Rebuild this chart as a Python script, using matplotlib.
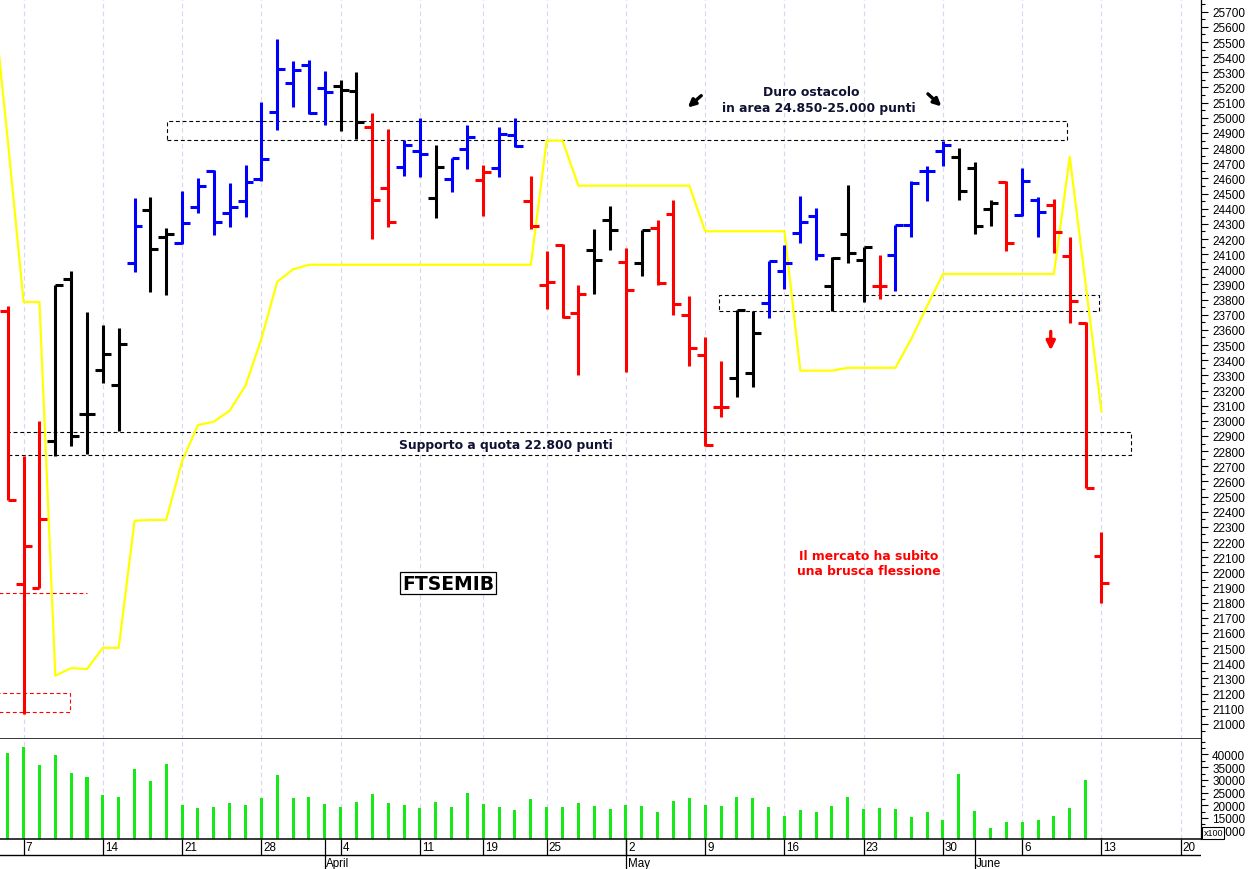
import matplotlib
matplotlib.use("Agg")
import matplotlib.pyplot as plt
import numpy as np

# FTSE MIB daily bars, x = trading day index (0 = 7 March 2022)
day = np.arange(-1, 69)
opens = [23725, 21921, 21896, 22865, 23936, 23047, 23337, 23236, 24041, 24389,
         24211, 24173, 24409, 24651, 24373, 24449, 24596, 25036, 25227, 25348,
         25198, 25208, 25179, 24937, 24534, 24673, 24783, 24470, 24596, 24794,
         24589, 24666, 24886, 24451, 23896, 24162, 23711, 24127, 24325, 24046,
         24041, 24274, 24365, 23698, 23434, 23089, 23280, 23315, 23777, 23987,
         24239, 24354, 23888, 24233, 24061, 23892, 24096, 24292, 24647, 24783,
         24739, 24668, 24398, 24578, 24358, 24457, 24424, 24090, 23643, 22110]
highs = [23758, 22770, 23001, 23896, 23991, 23720, 23634, 23610, 24468, 24475,
         24272, 24515, 24604, 24655, 24567, 24686, 25106, 25520, 25375, 25381,
         25311, 25251, 25300, 25029, 24926, 24853, 24996, 24822, 24732, 24954,
         24690, 24941, 24996, 24614, 24123, 24167, 23898, 24266, 24420, 24140,
         24259, 24325, 24457, 23826, 23555, 23393, 23733, 23723, 24057, 24160,
         24486, 24402, 24083, 24558, 24145, 24096, 24294, 24585, 24684, 24849,
         24798, 24706, 24457, 24585, 24666, 24475, 24464, 24211, 23650, 22268]
lows = [22477, 21065, 21896, 22766, 22836, 22781, 23249, 22931, 23980, 23848,
        23832, 24167, 24371, 24226, 24277, 24343, 24585, 24919, 25069, 25025,
        24952, 24911, 24860, 24200, 24277, 24617, 24607, 24338, 24512, 24662,
        24354, 24607, 24809, 24266, 23738, 23676, 23302, 23837, 24129, 23320,
        23954, 23896, 23698, 23364, 22836, 23023, 23155, 23225, 23676, 23870,
        24173, 24063, 23727, 24039, 23786, 23804, 23859, 24215, 24449, 24684,
        24457, 24233, 24288, 24118, 24354, 24211, 24105, 23643, 22554, 21797]
closes = [22477, 22172, 22350, 23896, 22902, 23047, 23439, 23507, 24288, 24134,
          24231, 24303, 24548, 24310, 24413, 24574, 24726, 25324, 25317, 25029,
          25170, 25185, 24974, 24457, 24310, 24822, 24759, 24673, 24732, 24875,
          24640, 24893, 24814, 24288, 23914, 23687, 23837, 24061, 24261, 23863,
          24259, 23907, 23771, 23480, 22840, 23089, 23731, 23579, 24057, 24041,
          24314, 24094, 24074, 24107, 24145, 23892, 24292, 24567, 24647, 24820,
          24515, 24288, 24437, 24173, 24581, 24380, 24244, 23789, 22554, 21927]
trend = ["r", "r", "r", "k", "k", "k", "k", "k", "b", "k",
         "k", "b", "b", "b", "b", "b", "b", "b", "b", "b",
         "b", "k", "k", "r", "r", "b", "b", "k", "b", "b",
         "r", "b", "b", "r", "r", "r", "r", "k", "k", "r",
         "k", "r", "r", "r", "r", "r", "k", "k", "b", "b",
         "b", "b", "k", "k", "k", "r", "b", "b", "b", "b",
         "k", "k", "k", "r", "b", "b", "r", "r", "r", "r"]
volume = [40500, 43100, 35900, 39800, 32600, 31300, 24100, 23300, 34400, 29600,
          36300, 20000, 18900, 19500, 20900, 20100, 23000, 31900, 23000, 23400,
          20400, 19300, 21300, 24500, 20900, 20000, 18900, 21200, 19200, 24700,
          20400, 19300, 18200, 22400, 19300, 19200, 20800, 19800, 18400, 20100,
          19700, 17400, 21600, 23000, 20100, 19600, 23400, 22800, 19200, 15800,
          18000, 17400, 19700, 23400, 18500, 18800, 18500, 15400, 17400, 14200,
          32200, 17800, 11000, 13400, 13400, 14200, 15800, 19100, 30000, 7100]

# yellow indicator line (starts one day earlier, off the left edge)
ind_day = np.arange(-2, 69)
indicator = [25880, 24853, 23784, 23784, 21318, 21368, 21362, 21502, 21502, 22341,
             22345, 22347, 22735, 22972, 22994, 23067, 23232, 23540, 23918, 24000,
             24030, 24030, 24030, 24030, 24030, 24030, 24030, 24030, 24030, 24030,
             24030, 24030, 24030, 24030, 24030, 24849, 24849, 24552, 24552, 24552,
             24552, 24552, 24552, 24552, 24552, 24251, 24251, 24251, 24251, 24251,
             24251, 23331, 23331, 23331, 23350, 23350, 23350, 23350, 23540, 23757,
             23969, 23969, 23969, 23969, 23969, 23969, 23969, 23969, 24743, 23903,
             23063]

week_idx = [0, 5, 10, 15, 20, 25, 29, 33, 38, 43, 48, 53, 58, 63, 68, 73]
week_lbl = ["7", "14", "21", "28", "4", "11", "19", "25", "2", "9", "16", "23",
            "30", "6", "13", "20"]
month_idx = [19, 38, 60]
month_lbl = ["April", "May", "June"]

colmap = {"r": "#ff0000", "b": "#0000ff", "k": "#000000"}
cols = [colmap[t] for t in trend]

W, H = 1250, 870
def rect(x0, y0, x1, y1):
    return [x0 / W, 1 - y1 / H, (x1 - x0) / W, (y1 - y0) / H]

fig = plt.figure(figsize=(12.5, 8.7), dpi=100)
ax = fig.add_axes(rect(0, 0, 1201, 739.7))
axv = fig.add_axes(rect(0, 739.7, 1201, 840), sharex=ax)
axd = fig.add_axes(rect(0, 840, 1201, 870), sharex=ax)

xmin, xmax = -1.489, 74.28
ax.set_xlim(xmin, xmax)
ax.set_ylim(20902, 25784)

for w in week_idx:
    ax.axvline(w, color="#d6d6ee", lw=0.8, ls=(0, (4, 3)), zorder=0)
    axv.axvline(w, color="#d6d6ee", lw=0.8, ls=(0, (4, 3)), zorder=0)

# support / resistance boxes
dash = (0, (3.5, 2.5))
def zone(a, b, lo, hi, color="black"):
    ax.plot([a, b, b, a, a], [lo, lo, hi, hi, lo], color=color, lw=0.8, ls=dash, zorder=1)

zone(9.03, 65.8, 24851, 24981)
zone(-1.0, 69.85, 22772, 22923)
zone(43.9, 67.85, 23725, 23828)
zone(-1.6, 2.95, 21076, 21201, color="red")
ax.plot([-1.6, 4.0], [21861, 21861], color="red", lw=0.8, ls=dash, zorder=1)

ax.plot(ind_day, indicator, color="#ffff00", lw=1.6, zorder=2)

# OHLC bars
lw = 2.2
ax.vlines(day, lows, highs, colors=cols, lw=lw, zorder=3)
ax.hlines(opens, day - 0.5, day, colors=cols, lw=lw, zorder=3)
ax.hlines(closes, day, day + 0.5, colors=cols, lw=lw, zorder=3)

# annotations
tf = dict(family="DejaVu Sans", fontweight="bold", fontsize=8.9)
ax.text(49.7, 25175, "Duro ostacolo", ha="center", va="center", color="#111133", **tf)
ax.text(50.15, 25069, "in area 24.850-25.000 punti", ha="center", va="center",
        color="#111133", **tf)
ax.text(30.4, 22842, "Supporto a quota 22.800 punti", ha="center", va="center",
        color="#111133", **tf)
ax.text(53.3, 22108, "Il mercato ha subito", ha="center", va="center", color="#ff0000", **tf)
ax.text(53.3, 22009, "una brusca flessione", ha="center", va="center", color="#ff0000", **tf)
ax.text(26.8, 21929, "FTSEMIB", ha="center", va="center", family="DejaVu Sans",
        fontweight="bold", fontsize=13.5, color="black",
        bbox=dict(boxstyle="square,pad=0.1", fc="white", ec="black", lw=0.9))

arr = dict(arrowstyle="-|>", color="black", lw=2.4, mutation_scale=11, shrinkA=0, shrinkB=0)
ax.annotate("", xy=(41.9, 25068), xytext=(42.75, 25146), arrowprops=arr)
ax.annotate("", xy=(57.9, 25075), xytext=(57.05, 25158), arrowprops=arr)
ax.annotate("", xy=(64.8, 23465), xytext=(64.8, 23590),
            arrowprops=dict(arrowstyle="-|>", color="red", lw=2.4, mutation_scale=13,
                            shrinkA=0, shrinkB=0))

# price axis on the right
ax.yaxis.tick_right()
ax.set_yticks(np.arange(21000, 25701, 100))
ax.set_yticks(np.arange(20950, 25800, 50), minor=True)
ax.tick_params(axis="y", which="major", length=5, width=0.8, pad=3, labelsize=8.5)
ax.tick_params(axis="y", which="minor", length=2.6, width=0.8)
for lab in ax.get_yticklabels():
    lab.set_family("Liberation Sans")
ax.tick_params(axis="x", bottom=False, labelbottom=False)
for s in ["top", "left"]:
    ax.spines[s].set_visible(False)
ax.spines["right"].set_linewidth(0.9)
ax.spines["bottom"].set_linewidth(1.1)

# volume pane
vbase = 6730
axv.set_ylim(vbase, 46220)
axv.bar(day, np.array(volume) - vbase, bottom=vbase, width=0.19, color="#17e817", zorder=2)
axv.yaxis.tick_right()
axv.set_yticks(np.arange(10000, 40001, 5000))
axv.set_yticks(np.arange(7500, 46000, 2500), minor=True)
axv.tick_params(axis="y", which="major", length=5, width=0.8, pad=3, labelsize=8.5)
axv.tick_params(axis="y", which="minor", length=2.6, width=0.8)
for lab in axv.get_yticklabels():
    lab.set_family("Liberation Sans")
axv.tick_params(axis="x", bottom=False, labelbottom=False)
axv.spines["top"].set_visible(False)
axv.spines["left"].set_visible(False)
axv.spines["right"].set_linewidth(0.9)
axv.spines["bottom"].set_linewidth(1.1)
fig.text(1203.5 / W, 1 - 834 / H, "x100", fontsize=6.5, family="Liberation Sans",
         ha="left", va="center",
         bbox=dict(boxstyle="square,pad=0.15", fc="white", ec="black", lw=0.8))

# date rows
axd.set_ylim(0, 30)
axd.axis("off")
axd.axhline(14, color="black", lw=1.0)
axd.vlines(week_idx, 14, 30, colors="black", lw=0.9)
axd.vlines(month_idx, 0, 30, colors="black", lw=0.9)
for w, t in zip(week_idx, week_lbl):
    axd.text(w + 0.13, 22, t, ha="left", va="center", fontsize=8.4, family="Liberation Sans")
for m, t in zip(month_idx, month_lbl):
    axd.text(m + 0.1, 6, t, ha="left", va="center", fontsize=8.4, family="Liberation Sans")

fig.savefig("out.png", dpi=100, facecolor="white")
